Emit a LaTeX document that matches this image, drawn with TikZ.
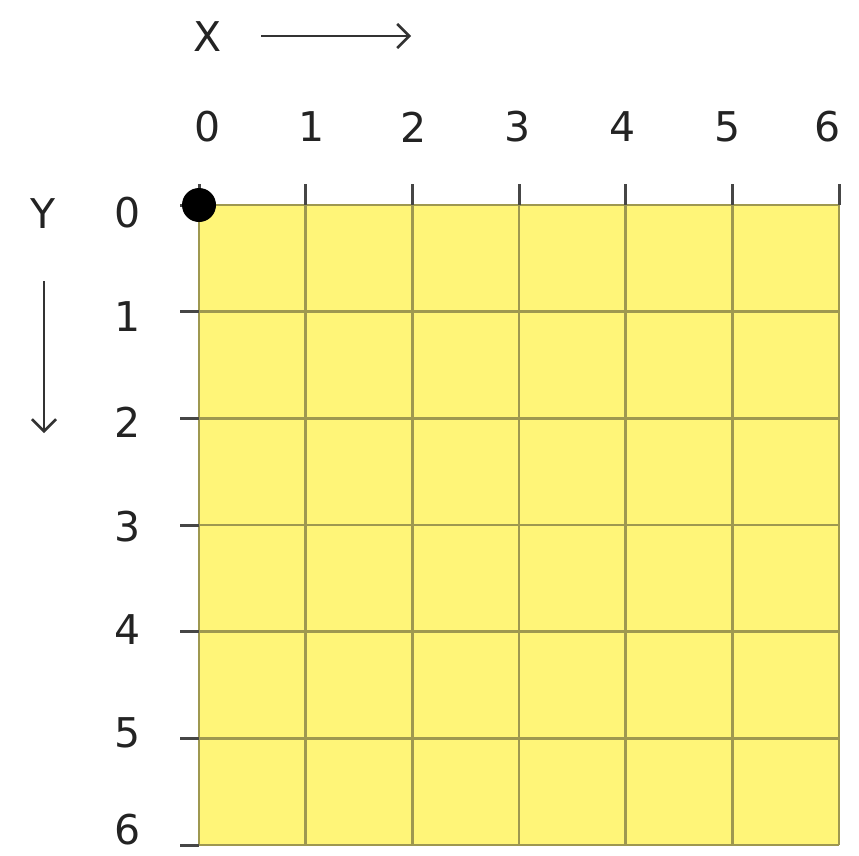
\documentclass[tikz,border=0pt]{standalone}
\usepackage{fontspec}
\setmainfont{DejaVu Sans}
\usetikzlibrary{arrows.meta}
\definecolor{cellfill}{RGB}{255,245,120}
\definecolor{gridcol}{RGB}{158,152,80}
\definecolor{tickcol}{RGB}{70,70,70}
\definecolor{txt}{RGB}{35,35,35}
\tikzset{
  lbl/.style={inner sep=0pt, text=txt, font=\fontsize{41}{41}\selectfont},
  axisarrow/.style={draw=black!80, line width=2.5pt, -{Straight Barb[length=12pt,width=24pt]}},
  gridline/.style={draw=gridcol, line width=2.5pt},
  tickmark/.style={draw=tickcol, line width=3pt},
}
\begin{document}
\begin{tikzpicture}[x=1pt,y=-1pt]
\useasboundingbox (0,0) rectangle (859,855);
\fill[cellfill] (199,205) rectangle (839,845);
\foreach \i in {0,...,6}{
  \draw[gridline] ({199+\i*106.667},205) -- ({199+\i*106.667},845);
  \draw[gridline] (199,{205+\i*106.667}) -- (839,{205+\i*106.667});
  \draw[tickmark] ({199+\i*106.667},184) -- ({199+\i*106.667},205);
  \draw[tickmark] (180,{205+\i*106.667}) -- (199,{205+\i*106.667});
}
\fill[black] (199,205) circle (17);
% top labels
\node[lbl] (x0) at (208,127) {0};
\node[lbl] (x1) at (312,127) {1};
\node[lbl] (x2) at (414,127) {2};
\node[lbl] (x3) at (518,127) {3};
\node[lbl] (x4) at (623,127) {4};
\node[lbl] (x5) at (728,127) {5};
\node[lbl] (x6) at (828,127) {6};
% left labels
\node[lbl] (y0) at (128,213) {0};
\node[lbl] (y1) at (128,317) {1};
\node[lbl] (y2) at (128,422) {2};
\node[lbl] (y3) at (128,527) {3};
\node[lbl] (y4) at (128,630) {4};
\node[lbl] (y5) at (128,733) {5};
\node[lbl] (y6) at (128,830) {6};
% axis titles
\node[lbl] (X) at (208,37) {X};
\node[lbl] (Y) at (43,214) {Y};
\coordinate (xa) at (261,36);
\coordinate (xb) at (411,36);
\coordinate (ya) at (44,281);
\coordinate (yb) at (44,433);
\draw[axisarrow] (xa) -- (xb);
\draw[axisarrow] (ya) -- (yb);
\end{tikzpicture}
\end{document}
